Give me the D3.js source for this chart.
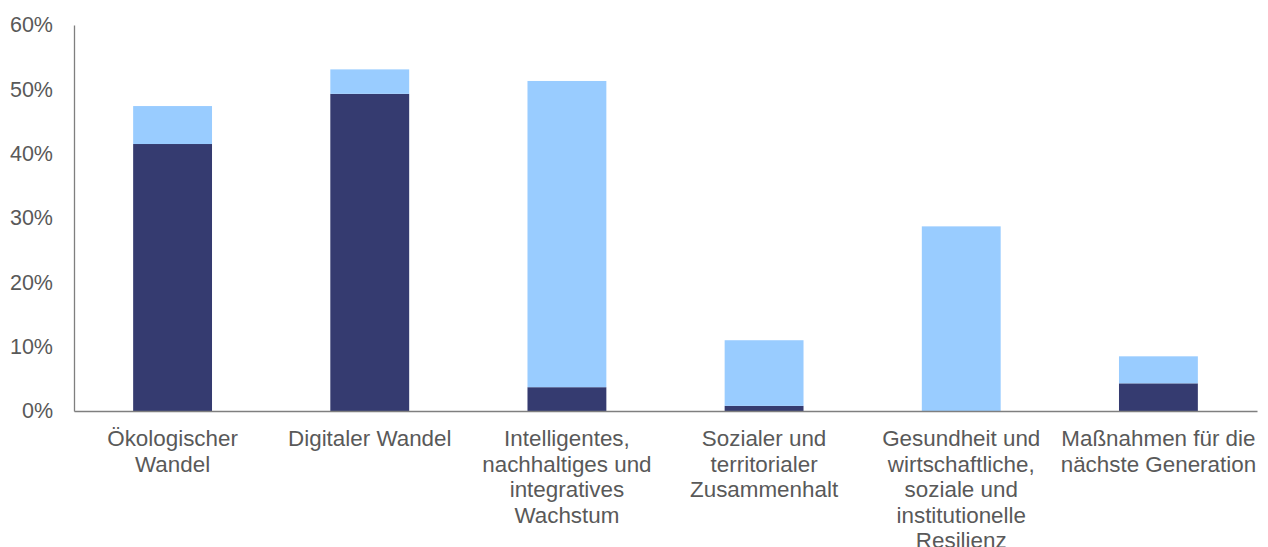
<!DOCTYPE html>
<html>
<head>
<meta charset="utf-8">
<script src="https://cdn.jsdelivr.net/npm/d3@7"></script>
<style>
  body { margin: 0; background: #fff; }
  svg text { font-family: "Liberation Sans", Arial, sans-serif; fill: #595959; }
</style>
</head>
<body>
<svg width="1268" height="547"></svg>
<script>
// categories, one entry per line of the wrapped label
var categories = [
  ["Ökologischer", "Wandel"],
  ["Digitaler Wandel"],
  ["Intelligentes,", "nachhaltiges und", "integratives", "Wachstum"],
  ["Sozialer und", "territorialer", "Zusammenhalt"],
  ["Gesundheit und", "wirtschaftliche,", "soziale und", "institutionelle", "Resilienz"],
  ["Maßnahmen für die", "nächste Generation"]
];
var darkValues = [41.5, 49.3, 3.7, 0.8, 0, 4.3];
var lightValues = [5.9, 3.8, 47.6, 10.2, 28.7, 4.2];
var yTicks = [0, 10, 20, 30, 40, 50, 60];

var svg = d3.select("svg"),
  margin = { top: 25, right: 11, bottom: 136, left: 74 },
  width = +svg.attr("width") - margin.left - margin.right,
  height = +svg.attr("height") - margin.top - margin.bottom,
  g = svg.append("g").attr("transform", "translate(" + margin.left + "," + margin.top + ")");

var x = d3.scaleBand()
  .domain(d3.range(categories.length))
  .range([0, width])
  .paddingInner(0.6)
  .paddingOuter(0.3);

var y = d3.scaleLinear().domain([0, 60]).range([height, 0]);

var stacked = categories.map(function (c, i) {
  return { i: i, dark: darkValues[i], light: lightValues[i] };
});

// dark part
g.selectAll("rect.dark")
  .data(stacked)
  .enter().append("rect")
  .attr("class", "dark")
  .attr("x", function (d) { return x(d.i); })
  .attr("width", x.bandwidth())
  .attr("y", function (d) { return y(d.dark); })
  .attr("height", function (d) { return y(0) - y(d.dark); })
  .style("fill", "#353B70");

// light part on top
g.selectAll("rect.light")
  .data(stacked)
  .enter().append("rect")
  .attr("class", "light")
  .attr("x", function (d) { return x(d.i); })
  .attr("width", x.bandwidth())
  .attr("y", function (d) { return y(d.dark + d.light); })
  .attr("height", function (d) { return y(d.dark) - y(d.dark + d.light); })
  .style("fill", "#99CCFF");

// y axis
var yAxis = g.append("g")
  .call(d3.axisLeft(y).tickValues(yTicks).tickSize(0).tickPadding(21)
    .tickFormat(function (d) { return d + "%"; }));
yAxis.select(".domain").attr("stroke", "#7f7f7f").attr("stroke-width", 1.3);
yAxis.selectAll("text").style("font-size", "21.5px").attr("fill", "#595959");

// x axis
var xAxis = g.append("g")
  .attr("transform", "translate(0," + height + ")")
  .call(d3.axisBottom(x).tickSize(0).tickFormat(""));
xAxis.select(".domain").attr("stroke", "#7f7f7f").attr("stroke-width", 1.3);

xAxis.selectAll(".tick").each(function (i) {
  var t = d3.select(this).append("text")
    .attr("text-anchor", "middle")
    .style("font-size", "22.4px")
    .attr("fill", "#595959");
  categories[i].forEach(function (line, k) {
    t.append("tspan").attr("x", 0).attr("y", 35 + k * 25.5).text(line);
  });
});
</script>
</body>
</html>
